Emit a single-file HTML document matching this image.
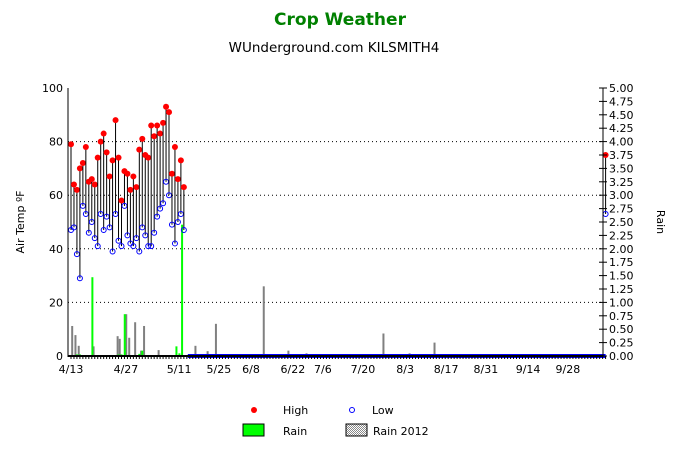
<!DOCTYPE html>
<html><head><meta charset="utf-8"><style>
body{margin:0;background:#fff;font-family:"DejaVu Sans","Liberation Sans",sans-serif}
svg text{font-family:"DejaVu Sans","Liberation Sans",sans-serif}
</style></head><body>
<svg id="c" width="675" height="449" xmlns="http://www.w3.org/2000/svg">
<text x="340" y="25" text-anchor="middle" font-size="17" font-weight="bold" fill="#008000">Crop Weather</text>
<text x="334" y="52" text-anchor="middle" font-size="13.5" fill="#000">WUnderground.com KILSMITH4</text>
<text transform="translate(24,222) rotate(-90)" text-anchor="middle" font-size="11">Air Temp ºF</text>
<text transform="translate(657,222) rotate(90)" text-anchor="middle" font-size="11">Rain</text>
<g id="grid"></g><g id="bars"></g><g id="marks"></g><g id="axes"></g>
<g>
<circle cx="254" cy="410" r="3" fill="#f00"/>
<text x="283" y="414" font-size="11">High</text>
<circle cx="352" cy="410" r="2.5" fill="none" stroke="#00f"/>
<text x="372" y="414" font-size="11">Low</text>
<rect x="243" y="424" width="21" height="12" fill="#0f0" stroke="#000"/>
<text x="283" y="435" font-size="11">Rain</text>
<defs><pattern id="hp" width="2" height="2" patternUnits="userSpaceOnUse"><rect width="1" height="1" fill="#888"/><rect x="1" y="1" width="1" height="1" fill="#888"/></pattern></defs>
<rect x="346" y="424" width="21" height="12" fill="url(#hp)" stroke="#000"/>
<text x="373" y="435" font-size="11">Rain 2012</text>
</g>
</svg>
<script>
const highs=[79,64,62,70,72,78,65,66,64,74,80,83,76,67,73,88,74,58,69,68,62,67,63,77,81,75,74,86,82,86,83,87,93,91,68,78,66,73,63];
const lows=[47,48,38,29,56,53,46,50,44,41,53,47,52,48,39,53,43,41,56,45,42,41,44,39,48,45,41,41,46,52,55,57,65,60,49,42,50,53,47];
const lastHigh=75, lastLow=53, lastIdx=180;
const rainIdx=[7.2,18.1,37.4,2,3,16,17,23,24,35.5,36.5];
const rainVals=[1.47,0.78,2.45,0.03,0.03,0.03,0.03,0.04,0.1,0.18,0.05];
const rain12Idx=[0.4,1.5,2.6,7.6,15.7,16.4,18.6,19.6,21.6,23.6,24.6,29.5,41.9,46,48.8,64.9,73.2,79.3,105.2,114,122.4];
const rain12Vals=[0.56,0.39,0.19,0.18,0.37,0.32,0.78,0.34,0.63,0.1,0.56,0.11,0.19,0.09,0.6,1.3,0.1,0.05,0.42,0.05,0.25];
const tickLabels=["4/13","4/27","5/11","5/25","6/8","6/22","7/6","7/20","8/3","8/17","8/31","9/14","9/28"];
const tickIdx=[0,18.5,36.4,49.8,60.6,74.7,84.8,98.3,112.5,126.3,139.7,153.9,167.3];
const tempTicks=[0,20,40,60,80,100];
const rainTicks=[0,0.25,0.5,0.75,1,1.25,1.5,1.75,2,2.25,2.5,2.75,3,3.25,3.5,3.75,4,4.25,4.5,4.75,5];
const X0=71,DX=2.97,YB=356,YT=88;
const x=i=>X0+i*DX, yT=v=>YB-(v/100)*(YB-YT), yR=v=>YB-(v/5)*(YB-YT);
const NS="http://www.w3.org/2000/svg";
function mk(p,t,a){const e=document.createElementNS(NS,t);for(const k in a)e.setAttribute(k,a[k]);document.getElementById(p).appendChild(e);return e;}
tempTicks.forEach(v=>{if(v>0&&v<100){const g=mk('grid','line',{x1:68,x2:603,y1:yT(v),y2:yT(v),stroke:'#000','stroke-dasharray':'1,3'});

}
const t=mk('axes','text',{x:63,y:yT(v)+4,'text-anchor':'end','font-size':11});t.textContent=v;

});
rainTicks.forEach(v=>{mk('axes','line',{x1:599,x2:607,y1:yR(v),y2:yR(v),stroke:'#000'});
const t=mk('axes','text',{x:609,y:yR(v)+4,'font-size':11});t.textContent=v.toFixed(2);

});
mk('axes','line',{x1:68,x2:68,y1:YT,y2:YB+1,stroke:'#000'});
mk('axes','line',{x1:603,x2:603,y1:YT,y2:YB+1,stroke:'#000'});
mk('axes','line',{x1:68,x2:603,y1:YB,y2:YB,stroke:'#000','stroke-width':2});
for(let i=0;i<=lastIdx;i++)mk('axes','line',{x1:x(i),x2:x(i),y1:YB,y2:YB+3,stroke:'#000'});
tickLabels.forEach((l,k)=>{const t=mk('axes','text',{x:x(tickIdx[k]),y:373,'text-anchor':'middle','font-size':11});t.textContent=l;

});
rain12Idx.forEach((i,k)=>{const r=mk('bars','rect',{x:x(i)-1,y:yR(rain12Vals[k]),width:2,height:YB-yR(rain12Vals[k]),fill:'#808080'});

});
rainIdx.forEach((i,k)=>{const r=mk('bars','rect',{x:x(i)-1,y:yR(rainVals[k]),width:2,height:YB-yR(rainVals[k]),fill:'#00ff00'});

});
function pt(i,h,l){mk('marks','line',{x1:x(i),x2:x(i),y1:yT(h),y2:yT(l),stroke:'#000'});
const a=mk('marks','circle',{cx:x(i),cy:yT(h),r:3,fill:'#f00'});


const b=mk('marks','circle',{cx:x(i),cy:yT(l),r:2.5,fill:'none',stroke:'#00f'});

}
highs.forEach((h,i)=>pt(i,h,lows[i]));
const band=mk('marks','rect',{x:x(highs.length)+1,y:YB-2,width:x(lastIdx-1)-x(highs.length)+2,height:4,fill:'#00f'});


for(let i=highs.length+1;i<lastIdx;i++)mk('marks','rect',{x:x(i)-0.5,y:YB-1,width:1.2,height:2,fill:'#f00'});
pt(lastIdx,lastHigh,lastLow);
</script>
</body></html>
